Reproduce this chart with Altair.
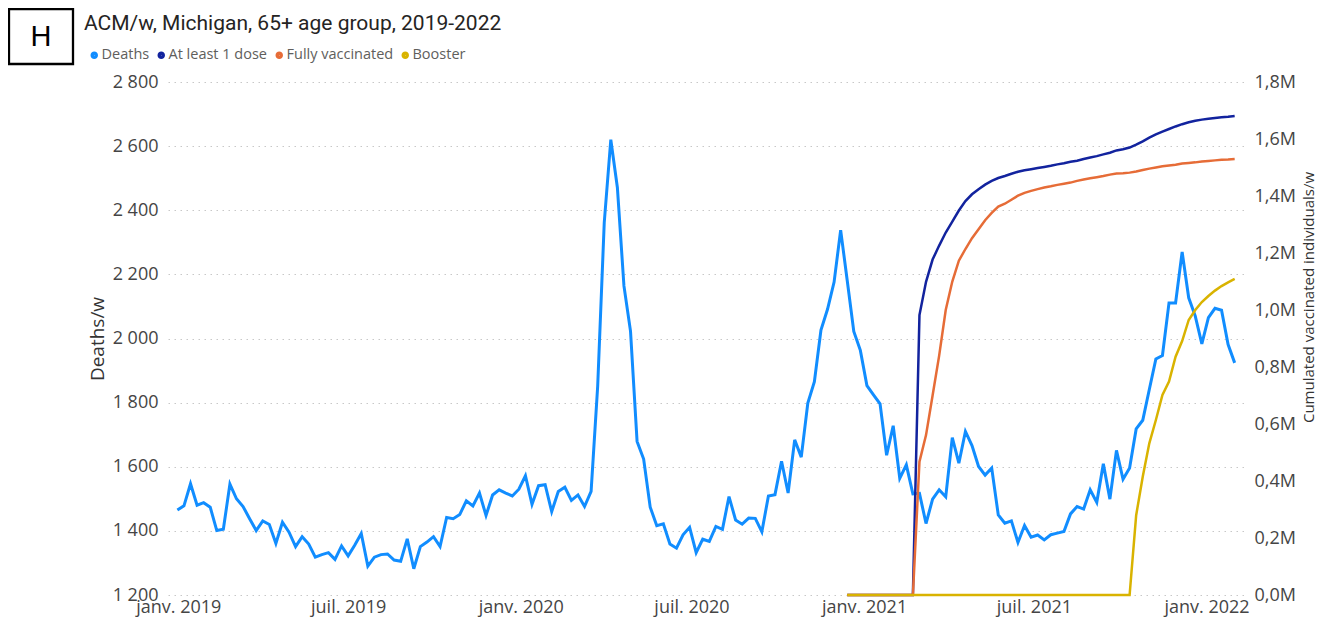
import altair as alt
import pandas as pd

# ---------------- data ----------------
# weekly dates (first week of 2019 to end of January 2022)
week_dates = pd.date_range("2018-12-31", periods=162, freq="7D").strftime("%Y-%m-%d").tolist()

deaths = [
    1465, 1478, 1547, 1480, 1488, 1474, 1401, 1405, 1546, 1500, 1476, 1438, 1401, 1431, 1420, 1361,
    1427, 1396, 1351, 1382, 1359, 1318, 1326, 1332, 1311, 1353, 1322, 1355, 1392, 1290, 1318, 1326, 1328,
    1309, 1305, 1375, 1282, 1351, 1365, 1382, 1351, 1442, 1438, 1451, 1494, 1478, 1518, 1448, 1512,
    1528, 1518, 1509, 1530, 1572, 1483, 1541, 1544, 1460, 1523, 1536, 1495, 1512, 1476, 1523,
    1851, 2361, 2620, 2471, 2164, 2023, 1679, 1624, 1474, 1416, 1422, 1359, 1346, 1388, 1411, 1332,
    1374, 1367, 1414, 1405, 1507, 1434, 1421, 1440, 1439, 1397, 1509, 1513, 1617, 1518, 1684, 1630,
    1799, 1865, 2026, 2091,
    2176, 2338, 2181, 2022, 1963, 1853, 1824, 1796, 1636, 1728, 1564, 1606, 1515, 1517, 1423, 1499,
    1528, 1506, 1691, 1611, 1710, 1666, 1601, 1574, 1596, 1450, 1424, 1431, 1364,
    1417, 1380, 1387, 1372,
    1388, 1393, 1398, 1453, 1476, 1468, 1528, 1489, 1609, 1499, 1651, 1561, 1596, 1718, 1745, 1841,
    1936, 1947, 2111, 2111, 2270, 2127, 2070, 1983, 2065, 2094, 2088, 1981, 1924,
]

# vaccination series start on the week of 2020-12-14 (index 102)
vacc_dates = week_dates[102:]

dose1 = [
    0, 0, 0, 0, 0, 0, 0, 0, 0, 0, 0,
    982000, 1099000, 1177000, 1226000, 1272000, 1310000, 1349000, 1382000, 1406000, 1424000,
    1440000, 1453000, 1463000, 1470000, 1478000, 1485000, 1490000, 1494000, 1498000, 1502000,
    1506000, 1511000, 1515000, 1520000, 1524000, 1530000, 1535000, 1540000, 1546000, 1552000,
    1560000, 1564000, 1570000, 1580000, 1592000, 1605000, 1616000, 1626000, 1635000, 1644000,
    1652000, 1659000, 1664000, 1668000, 1671000, 1674000, 1676000, 1678000, 1681000,
]

fully = [
    0, 0, 0, 0, 0, 0, 0, 0, 0, 0, 0,
    468000, 561000, 700000, 840000, 1000000, 1100000, 1173000, 1214000, 1252000, 1283000,
    1315000, 1341000, 1363000, 1373000, 1387000, 1401000, 1411000, 1418000, 1424000, 1430000,
    1434000, 1439000, 1443000, 1447000, 1453000, 1458000, 1462000, 1466000, 1470000, 1475000,
    1479000, 1480000, 1482000, 1486000, 1491000, 1496000, 1500000, 1504000, 1507000, 1510000,
    1514000, 1516000, 1518000, 1521000, 1523000, 1525000, 1527000, 1528000, 1530000,
]

booster = [
    0, 0, 0, 0, 0, 0, 0, 0, 0, 0, 0, 0, 0, 0, 0, 0, 0, 0, 0, 0, 0, 0,
    0, 0, 0, 0, 0, 0, 0, 0, 0, 0, 0, 0, 0, 0, 0, 0, 0, 0, 0, 0, 0, 0,
    280000, 415000, 532000, 614000, 702000, 749000, 836000, 891000,
    965000, 1000000, 1028000, 1049000, 1068000, 1084000, 1097000, 1109000,
]

series_names = ["Deaths", "At least 1 dose", "Fully vaccinated", "Booster"]
series_colors = ["#118DFF", "#12239E", "#E66C37", "#D9B300"]

title_text = "ACM/w, Michigan, 65+ age group, 2019-2022"
panel_letter = "H"
left_ticks = [1200, 1400, 1600, 1800, 2000, 2200, 2400, 2600, 2800]
right_ticks = [0, 200000, 400000, 600000, 800000, 1000000, 1200000, 1400000, 1600000, 1800000]

# ---------------- tables ----------------
df_deaths = pd.DataFrame({"date": week_dates, "value": deaths, "series": "Deaths"})
df_dose1 = pd.DataFrame({"date": vacc_dates, "value": dose1, "series": "At least 1 dose"})
df_fully = pd.DataFrame({"date": vacc_dates, "value": fully, "series": "Fully vaccinated"})
df_boost = pd.DataFrame({"date": vacc_dates, "value": booster, "series": "Booster"})

FONT = "Open Sans"
LABEL_COLOR = "#454545"
TITLE_COLOR = "#333333"

x_values = [alt.DateTime(year=y, month=m, date=1, utc=True)
            for y in (2019, 2020, 2021, 2022) for m in (1, 7)
            if not (y == 2022 and m == 7)]

x_enc = alt.X(
    "date:T",
    scale=alt.Scale(
        type="utc",
        domain=[alt.DateTime(year=2018, month=12, date=21, utc=True),
                alt.DateTime(year=2022, month=2, date=11, utc=True)],
    ),
    axis=alt.Axis(
        values=x_values,
        labelExpr="(utcFormat(datum.value, '%m') == '01' ? 'janv. ' : 'juil. ') + utcFormat(datum.value, '%Y')",
        title=None, grid=False, domain=False, ticks=False,
        labelFont=FONT, labelFontSize=18, labelColor=LABEL_COLOR, labelPadding=3,
        labelOverlap=False, labelFlush=False,
    ),
)

color_enc = alt.Color(
    "series:N",
    scale=alt.Scale(domain=series_names, range=series_colors),
    legend=alt.Legend(
        orient="none", legendX=-81, legendY=-34, direction="horizontal", title=None,
        symbolType="circle", symbolSize=12, symbolStrokeWidth=4, symbolOpacity=1,
        labelFont=FONT, labelFontSize=14.5, labelColor="#605E5C", labelOffset=0,
        columnPadding=1,
    ),
)

deaths_layer = alt.Chart(df_deaths).mark_line(strokeWidth=3).encode(
    x=x_enc,
    y=alt.Y(
        "value:Q",
        scale=alt.Scale(domain=[1200, 2800], nice=False, zero=False),
        axis=alt.Axis(
            values=left_ticks,
            labelExpr="replace(format(datum.value, ','), ',', ' ')",
            grid=True, gridDash=[1.5, 4.5], gridColor="#C8C8C8", gridWidth=1,
            domain=False, ticks=False,
            labelFont=FONT, labelFontSize=18, labelColor=LABEL_COLOR, labelPadding=10,
            title="Deaths/w", titleFont=FONT, titleFontSize=19, titleFontWeight="normal",
            titleColor=TITLE_COLOR, titlePadding=5,
        ),
    ),
    color=color_enc,
)

right_axis = alt.Axis(
    orient="right", values=right_ticks,
    labelExpr="replace(format(datum.value / 1000000, '.1f'), '.', ',') + 'M'",
    grid=False, domain=False, ticks=False,
    labelFont=FONT, labelFontSize=18, labelColor=LABEL_COLOR, labelPadding=9,
    title="Cumulated vaccinated individuals/w", titleFont=FONT, titleFontSize=15,
    titleFontWeight="normal", titleColor=TITLE_COLOR, titleAngle=270,
    titleBaseline="top", titleAlign="center", titleX=56, titleY=215,
)
right_scale = alt.Scale(domain=[0, 1800000], nice=False)


def vacc_layer(df):
    return alt.Chart(df).mark_line(strokeWidth=2.5).encode(
        x=x_enc,
        y=alt.Y("value:Q", scale=right_scale, axis=right_axis),
        color=color_enc,
    )


vacc = alt.layer(vacc_layer(df_dose1), vacc_layer(df_fully), vacc_layer(df_boost))

title_layer = alt.Chart(pd.DataFrame({"t": [title_text]})).mark_text(
    align="left", baseline="middle", font="Roboto", fontSize=21, color="#252423"
).encode(x=alt.value(-84), y=alt.value(-58), text="t:N")

box_layer = alt.Chart(pd.DataFrame({"k": [0]})).mark_rect(
    fill="white", stroke="black", strokeWidth=2.3
).encode(x=alt.value(-159), x2=alt.value(-95), y=alt.value(-73), y2=alt.value(-18))

letter_layer = alt.Chart(pd.DataFrame({"t": [panel_letter]})).mark_text(
    align="center", baseline="middle", font="Liberation Sans", fontSize=29, color="black"
).encode(x=alt.value(-127), y=alt.value(-45), text="t:N")

chart = alt.layer(deaths_layer, vacc, box_layer, letter_layer, title_layer).resolve_scale(
    y="independent"
).properties(
    width=1077, height=513,
    autosize=alt.AutoSizeParams(type="none"),
    padding={"left": 160, "top": 74, "right": 72, "bottom": 22},
).configure_view(stroke=None)

chart.save("out.html", embed_options={"renderer": "svg", "actions": False})
